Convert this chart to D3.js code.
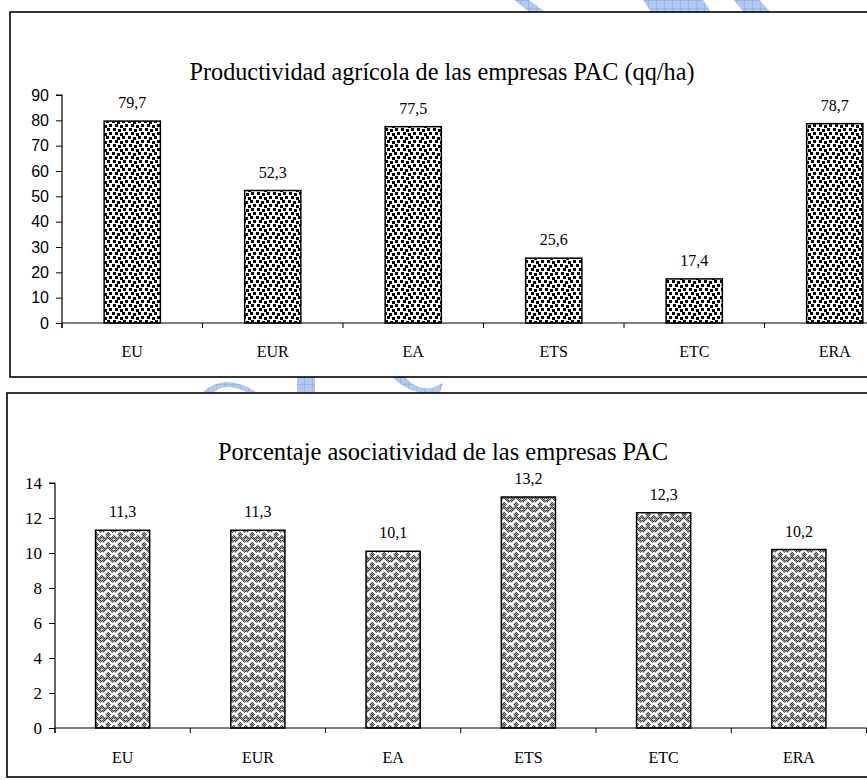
<!DOCTYPE html>
<html>
<head>
<meta charset="utf-8">
<script src="https://cdnjs.cloudflare.com/ajax/libs/d3/7.8.5/d3.min.js"></script>
<style>
  html, body { margin: 0; padding: 0; background: #fff; }
  svg { display: block; }
  .serif { font-family: "Liberation Serif", "DejaVu Serif", "Times New Roman", serif; }
  .sans { font-family: "Liberation Sans", Arial, sans-serif; }
</style>
</head>
<body>
<svg id="chart" width="867" height="780"></svg>
<script>
// Categories shared by both panels
const categories = ["EU", "EUR", "EA", "ETS", "ETC", "ERA"];

// Panel 1: agricultural productivity (qq/ha)
const productividad = [79.7, 52.3, 77.5, 25.6, 17.4, 78.7];
const productividadTicks = [0, 10, 20, 30, 40, 50, 60, 70, 80, 90];
const productividadTitle = "Productividad agrícola de las empresas PAC (qq/ha)";

// Panel 2: share of associated farms (%)
const asociatividad = [11.3, 11.3, 10.1, 13.2, 12.3, 10.2];
const asociatividadTicks = [0, 2, 4, 6, 8, 10, 12, 14];
const asociatividadTitle = "Porcentaje asociatividad de las empresas PAC";

const fmt = v => d3.format(".1f")(v).replace(".", ",");

const svg = d3.select("#chart");
const defs = svg.append("defs");

// --- fill patterns -------------------------------------------------------
// confetti of small black squares
const conf = defs.append("pattern").attr("id", "confetti")
  .attr("patternUnits", "userSpaceOnUse").attr("width", 16).attr("height", 16);
conf.append("rect").attr("width", 16).attr("height", 16).attr("fill", "#fff");
[[1,0],[6,1],[11,0],[3,4],[8,5],[13,4],[0,8],[5,9],[10,8],[3,12],[8,13],[13,12]]
  .forEach(([x, y]) => conf.append("rect").attr("x", x).attr("y", y)
    .attr("width", 3).attr("height", 3).attr("fill", "#000"));

// weave hatch: grey stipple crossed by white zigzag strands
const weave = defs.append("pattern").attr("id", "weave")
  .attr("patternUnits", "userSpaceOnUse").attr("width", 12).attr("height", 10);
weave.append("rect").attr("width", 12).attr("height", 10).attr("fill", "#a4a4a4");
for (let y = 0; y < 10; y++) for (let x = (y % 2); x < 12; x += 2)
  weave.append("rect").attr("x", x).attr("y", y).attr("width", 1).attr("height", 1).attr("fill", "#3a3a3a");
weave.append("path")
  .attr("d", "M-1,-1 L4,4 M2,7 L6,3 L10,7 M8,4 L13,-1 M-1,9 L1,11 M11,11 L13,9 M5,11 L6,10 L7,11")
  .attr("stroke", "#fff").attr("stroke-width", 2.2).attr("fill", "none");

// light blue grid used by the background emblem
const wm = defs.append("pattern").attr("id", "wmgrid")
  .attr("patternUnits", "userSpaceOnUse").attr("width", 8).attr("height", 8);
wm.append("rect").attr("width", 8).attr("height", 8).attr("fill", "#b3c8ef");
wm.append("path").attr("d", "M0,0 H8 M0,0 V8").attr("stroke", "#7b9fdf").attr("stroke-width", 0.8);

// --- background emblem (mostly hidden behind the panels) -----------------
const emblem = svg.append("g").attr("fill", "url(#wmgrid)");
emblem.append("path").attr("d", "M508,-5 L522,-5 L548,14 L532,14 Z");
emblem.append("path").attr("d", "M640,-5 L700,-5 L712,14 L652,14 Z");
emblem.append("path").attr("d", "M730,-5 L755,-5 L772,14 L745,14 Z");
emblem.append("path").attr("d", "M203,392 Q225,372 256,392 L246,392 Q226,382 214,392 Z");
emblem.append("path").attr("d", "M297,375 L315,375 L315,392 L297,392 Z");
emblem.append("path").attr("d", "M390,375 L404,375 Q414,390 432,388 L443,383 L440,392 Q412,398 390,375 Z");

// --- one bar panel --------------------------------------------------------
function panel(cfg) {
  const g = svg.append("g");

  // frame
  g.append("rect")
    .attr("x", cfg.box[0]).attr("y", cfg.box[1])
    .attr("width", cfg.box[2] - cfg.box[0]).attr("height", cfg.box[3] - cfg.box[1])
    .attr("fill", "#fff").attr("stroke", "#000").attr("stroke-width", 1.6);

  g.append("text").attr("class", "serif")
    .attr("x", cfg.titleX).attr("y", cfg.titleY)
    .attr("text-anchor", "middle")
    .attr("font-size", 25)
    .attr("textLength", cfg.titleW).attr("lengthAdjust", "spacingAndGlyphs")
    .text(cfg.title);

  const x = d3.scaleBand().domain(categories)
    .range([cfg.x0, cfg.x0 + cfg.step * categories.length])
    .paddingInner(0.6).paddingOuter(0.3);
  const y = d3.scaleLinear().domain([0, cfg.ticks[cfg.ticks.length - 1]])
    .range([cfg.y0, cfg.yTop]);

  // bars
  g.selectAll(".bar").data(cfg.values).join("rect")
    .attr("x", (d, i) => x(categories[i]))
    .attr("y", d => y(d))
    .attr("width", x.bandwidth())
    .attr("height", d => y(0) - y(d))
    .attr("fill", cfg.fill)
    .attr("stroke", "#000").attr("stroke-width", 1.5);

  // value labels
  g.selectAll(".lbl").data(cfg.values).join("text").attr("class", "serif")
    .attr("x", (d, i) => x(categories[i]) + x.bandwidth() / 2)
    .attr("y", d => y(d) - 13)
    .attr("text-anchor", "middle")
    .attr("font-size", 16)
    .text(d => fmt(d));

  // y axis
  const ya = d3.axisLeft(y).tickValues(cfg.ticks).tickSize(6).tickPadding(7)
    .tickFormat(d3.format("d"));
  const yg = g.append("g").attr("transform", `translate(${cfg.x0},0)`).call(ya);
  yg.attr("font-family", null).attr("font-size", null);
  yg.select(".domain").attr("stroke", "#000").attr("stroke-width", 1.2)
    .attr("d", `M-6,${y(cfg.ticks[cfg.ticks.length - 1])}H0V${cfg.y0 + 5}`);
  yg.selectAll(".tick line").attr("stroke", "#000");
  yg.selectAll(".tick text").attr("fill", "#000").attr("class", cfg.tickClass)
    .style("font-size", cfg.tickSize + "px");

  // x axis: category boundary ticks below the baseline
  const bounds = d3.range(categories.length + 1).map(i => cfg.x0 + i * cfg.step);
  g.append("line").attr("x1", cfg.x0).attr("x2", bounds[bounds.length - 1])
    .attr("y1", cfg.y0).attr("y2", cfg.y0).attr("stroke", "#000").attr("stroke-width", 1.2);
  g.selectAll(".xt").data(bounds).join("line")
    .attr("x1", d => d).attr("x2", d => d)
    .attr("y1", cfg.y0).attr("y2", cfg.y0 + 5).attr("stroke", "#000");
  g.selectAll(".xl").data(categories).join("text").attr("class", "serif")
    .attr("x", d => x(d) + x.bandwidth() / 2)
    .attr("y", cfg.labelY)
    .attr("text-anchor", "middle")
    .attr("font-size", 16)
    .text(d => d);
}

panel({
  box: [10, 12, 900, 377],
  title: productividadTitle, titleX: 442, titleY: 80, titleW: 505,
  values: productividad, ticks: productividadTicks,
  x0: 62, step: 140.5, y0: 323, yTop: 95,
  fill: "url(#confetti)",
  tickClass: "sans", tickSize: 16,
  labelY: 357
});

panel({
  box: [7, 393, 900, 777],
  title: asociatividadTitle, titleX: 443, titleY: 460, titleW: 450,
  values: asociatividad, ticks: asociatividadTicks,
  x0: 55, step: 135.25, y0: 728, yTop: 483,
  fill: "url(#weave)",
  tickClass: "serif", tickSize: 17,
  labelY: 763
});
</script>
</body>
</html>
